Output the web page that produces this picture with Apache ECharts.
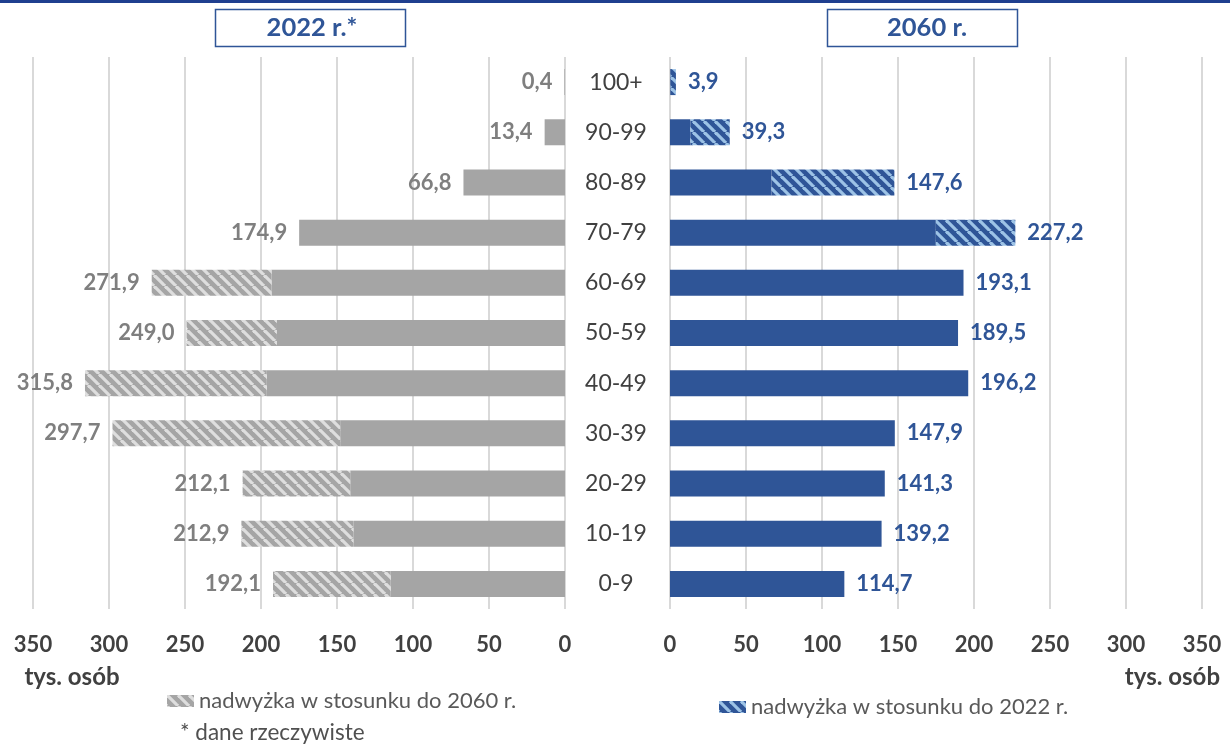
<!DOCTYPE html>
<html>
<head>
<meta charset="utf-8">
<script src="https://cdn.jsdelivr.net/npm/echarts@6/dist/echarts.min.js"></script>
<style>html,body{margin:0;padding:0;background:#fff;}#chart{width:1230px;height:744px;}</style>
</head>
<body>
<div id="chart"></div>
<script>
// ---- data ----
const categories = ['100+', '90-99', '80-89', '70-79', '60-69', '50-59', '40-49', '30-39', '20-29', '10-19', '0-9'];
const pop2022 = [0.4, 13.4, 66.8, 174.9, 271.9, 249.0, 315.8, 297.7, 212.1, 212.9, 192.1];
const pop2060 = [3.9, 39.3, 147.6, 227.2, 193.1, 189.5, 196.2, 147.9, 141.3, 139.2, 114.7];
const axisMin = 0, axisMax = 350, axisStep = 50;
const titleLeft = '2022 r.*';
const titleRight = '2060 r.';
const unitLabel = 'tys. osób';
const legendLeft = 'nadwyżka w stosunku do 2060 r.';
const legendRight = 'nadwyżka w stosunku do 2022 r.';
const footnote = '* dane rzeczywiste';

// derived
const common = pop2022.map((v, i) => Math.min(v, pop2060[i]));
const surplus2022 = pop2022.map((v, i) => +(Math.max(0, v - pop2060[i])).toFixed(1));
const surplus2060 = pop2060.map((v, i) => +(Math.max(0, v - pop2022[i])).toFixed(1));

function hatch(base, stripe) {
  const s = 11;
  const c = document.createElement('canvas');
  c.width = s; c.height = s;
  const ctx = c.getContext('2d');
  ctx.fillStyle = base; ctx.fillRect(0, 0, s, s);
  ctx.strokeStyle = stripe; ctx.lineWidth = 3.2;
  [-s, 0, s].forEach(k => { ctx.beginPath(); ctx.moveTo(k, 0); ctx.lineTo(k + s, s); ctx.stroke(); });
  return { image: c, repeat: 'repeat' };
}
const GRAY = '#A5A5A5', BLUE = '#2F5597';
const grayHatch = hatch(GRAY, '#DEDEDE');
const blueHatch = hatch(BLUE, '#9DC3E6');
const FONT = 'Lato';
const fmt = v => v.toFixed(1).replace('.', ',');

const chart = echarts.init(document.getElementById('chart'), null, { renderer: 'canvas' });
const xAxisBase = {
  type: 'value', min: axisMin, max: axisMax, interval: axisStep,
  axisLine: { show: false }, axisTick: { show: false },
  splitLine: { show: true, lineStyle: { color: '#D9D9D9', width: 2 } },
  axisLabel: { fontFamily: FONT, fontSize: 22, fontWeight: 'bold', color: '#404040', margin: 25 }
};
const barCommon = { type: 'bar', barWidth: 26, barGap: '-100%', animation: false };

chart.setOption({
  animation: false,
  grid: [
    { left: 33, width: 532, top: 57, height: 552 },
    { left: 670, width: 532, top: 57, height: 552 }
  ],
  xAxis: [
    Object.assign({ gridIndex: 0, inverse: true }, xAxisBase),
    Object.assign({ gridIndex: 1 }, xAxisBase)
  ],
  yAxis: [
    { type: 'category', gridIndex: 0, data: categories, inverse: true, position: 'right',
      axisLine: { show: false, onZero: false }, axisTick: { show: false },
      axisLabel: { align: 'center', margin: 51, fontFamily: FONT, fontSize: 23, color: '#404040' } },
    { type: 'category', gridIndex: 1, data: categories, inverse: true,
      axisLine: { show: false, onZero: false }, axisTick: { show: false }, axisLabel: { show: false } }
  ],
  legend: [
    { data: [legendLeft], left: 162, top: 685, icon: 'rect', itemWidth: 27, itemHeight: 12, itemGap: 0, selectedMode: false,
      textStyle: { fontFamily: FONT, fontSize: 22, color: '#595959' } },
    { data: [legendRight], left: 714, top: 691, icon: 'rect', itemWidth: 27, itemHeight: 12, itemGap: 0, selectedMode: false,
      textStyle: { fontFamily: FONT, fontSize: 22, color: '#595959' } }
  ],
  series: [
    Object.assign({ name: 'wspólne 2022', xAxisIndex: 0, yAxisIndex: 0, stack: 'L', data: common, itemStyle: { color: GRAY } }, barCommon),
    Object.assign({ name: legendLeft, xAxisIndex: 0, yAxisIndex: 0, stack: 'L', data: surplus2022, itemStyle: { color: grayHatch } }, barCommon),
    Object.assign({ name: 'razem 2022', xAxisIndex: 0, yAxisIndex: 0, data: pop2022, silent: true, itemStyle: { color: 'rgba(0,0,0,0)' },
      label: { show: true, position: 'left', distance: 12, formatter: p => fmt(p.value), fontFamily: FONT, fontSize: 22, fontWeight: 'bold', color: '#7F7F7F' } }, barCommon),
    Object.assign({ name: 'wspólne 2060', xAxisIndex: 1, yAxisIndex: 1, stack: 'R', data: common, itemStyle: { color: BLUE } }, barCommon),
    Object.assign({ name: legendRight, xAxisIndex: 1, yAxisIndex: 1, stack: 'R', data: surplus2060, itemStyle: { color: blueHatch } }, barCommon),
    Object.assign({ name: 'razem 2060', xAxisIndex: 1, yAxisIndex: 1, data: pop2060, silent: true, itemStyle: { color: 'rgba(0,0,0,0)' },
      label: { show: true, position: 'right', distance: 12, formatter: p => fmt(p.value), fontFamily: FONT, fontSize: 22, fontWeight: 'bold', color: BLUE } }, barCommon)
  ],
  graphic: [
    { type: 'rect', left: 0, top: 0, shape: { width: 1230, height: 3 }, style: { fill: '#1F3F8F' } },
    { type: 'rect', shape: { x: 215.5, y: 9.5, width: 190, height: 37 }, style: { fill: '#fff', stroke: BLUE, lineWidth: 1.5 } },
    { type: 'text', x: 312, y: 28, style: { text: titleLeft, fill: BLUE, font: 'bold 25.5px Lato', align: 'center', verticalAlign: 'middle' } },
    { type: 'rect', shape: { x: 827.5, y: 9.5, width: 190, height: 37 }, style: { fill: '#fff', stroke: BLUE, lineWidth: 1.5 } },
    { type: 'text', x: 927, y: 28, style: { text: titleRight, fill: BLUE, font: 'bold 25.5px Lato', align: 'center', verticalAlign: 'middle' } },
    { type: 'text', x: 72, y: 677, style: { text: unitLabel, fill: '#404040', font: 'bold 24px Lato', align: 'center', verticalAlign: 'middle' } },
    { type: 'text', x: 1220, y: 677, style: { text: unitLabel, fill: '#404040', font: 'bold 24px Lato', align: 'right', verticalAlign: 'middle' } },
    { type: 'text', x: 180, y: 733, style: { text: footnote, fill: '#505050', font: '22.5px Lato', align: 'left', verticalAlign: 'middle' } }
  ]
});
</script>
</body>
</html>
